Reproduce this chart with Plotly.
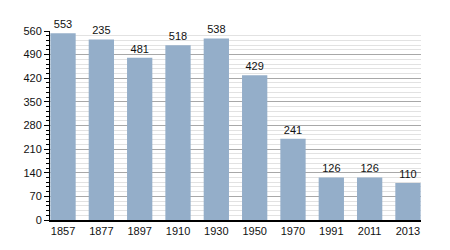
import plotly.graph_objects as go

years = ["1857", "1877", "1897", "1910", "1930", "1950", "1970", "1991", "2011", "2013"]
population = [553, 535, 481, 518, 538, 429, 241, 126, 126, 110]
bar_labels = ["553", "235", "481", "518", "538", "429", "241", "126", "126", "110"]
y_ticks = [0, 70, 140, 210, 280, 350, 420, 490, 560]

fig = go.Figure()
fig.add_trace(go.Bar(
    x=years, y=population, text=bar_labels,
    textposition="outside", cliponaxis=False,
    textfont=dict(size=11, color="#111"),
    marker=dict(color="#94aec9", line=dict(width=0)),
    width=0.66,
))
fig.update_layout(
    width=450, height=250,
    margin=dict(l=50, r=29, t=31, b=30),
    paper_bgcolor="white", plot_bgcolor="white",
    font=dict(family="Liberation Sans, Arial, sans-serif", size=11, color="#111"),
    showlegend=False, hovermode=False,
    bargap=0.34,
)
fig.update_xaxes(
    type="category", range=[-0.34, 9.34],
    showline=True, linecolor="black", linewidth=1.5,
    ticks="", showgrid=False, tickfont=dict(size=11),
)
fig.update_yaxes(
    range=[0, 560], tickvals=y_ticks,
    showline=True, linecolor="black", linewidth=1,
    ticks="outside", ticklen=5, tickcolor="black",
    showgrid=True, gridcolor="#a8a8a8", gridwidth=1,
    zeroline=False,
    minor=dict(dtick=14, ticks="outside", ticklen=3, tickcolor="black",
               showgrid=True, gridcolor="#e2e2e2", gridwidth=1),
    tickfont=dict(size=11),
)
fig.write_html("out.html")
